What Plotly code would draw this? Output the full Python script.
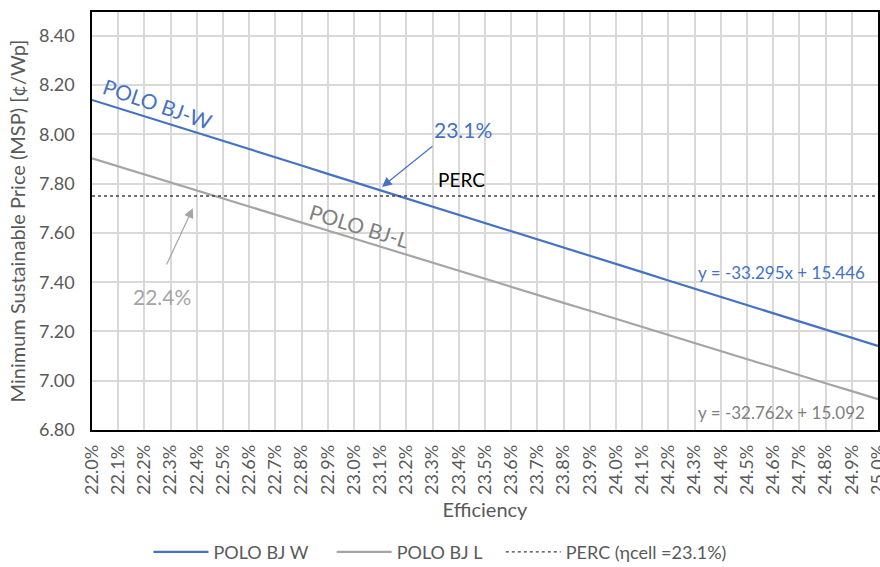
import plotly.graph_objects as go

efficiency = [22.0, 22.1, 22.2, 22.3, 22.4, 22.5, 22.6, 22.7, 22.8, 22.9,
              23.0, 23.1, 23.2, 23.3, 23.4, 23.5, 23.6, 23.7, 23.8, 23.9,
              24.0, 24.1, 24.2, 24.3, 24.4, 24.5, 24.6, 24.7, 24.8, 24.9, 25.0]
tick_labels = ["22.0%", "22.1%", "22.2%", "22.3%", "22.4%", "22.5%", "22.6%", "22.7%", "22.8%", "22.9%",
               "23.0%", "23.1%", "23.2%", "23.3%", "23.4%", "23.5%", "23.6%", "23.7%", "23.8%", "23.9%",
               "24.0%", "24.1%", "24.2%", "24.3%", "24.4%", "24.5%", "24.6%", "24.7%", "24.8%", "24.9%", "25.0%"]
polo_bj_w = [8.140, 8.107, 8.073, 8.040, 8.007, 7.973, 7.940, 7.907, 7.874, 7.840,
             7.807, 7.774, 7.740, 7.707, 7.674, 7.640, 7.607, 7.574, 7.541, 7.507,
             7.474, 7.441, 7.407, 7.374, 7.341, 7.307, 7.274, 7.241, 7.208, 7.174, 7.141]
polo_bj_l = [7.903, 7.870, 7.838, 7.805, 7.773, 7.740, 7.708, 7.675, 7.642, 7.610,
             7.577, 7.545, 7.512, 7.479, 7.447, 7.414, 7.382, 7.349, 7.316, 7.284,
             7.251, 7.219, 7.186, 7.153, 7.121, 7.088, 7.056, 7.023, 6.990, 6.958, 6.925]
perc_x = [22.0, 25.0]
perc_y = [7.75, 7.75]
y_ticks = [6.80, 7.00, 7.20, 7.40, 7.60, 7.80, 8.00, 8.20, 8.40]

BLUE = "#4472C4"
GRAY = "#A5A5A5"
TXT = "#595959"
FONT = "Lato"
NB = "\u00a0"

fig = go.Figure()
fig.add_trace(go.Scatter(x=efficiency, y=polo_bj_w, mode="lines", name="POLO BJ W" + NB * 4,
                         line=dict(color=BLUE, width=2.2)))
fig.add_trace(go.Scatter(x=efficiency, y=polo_bj_l, mode="lines", name="POLO BJ L" + NB * 3,
                         line=dict(color=GRAY, width=2.2)))
fig.add_trace(go.Scatter(x=perc_x, y=perc_y, mode="lines", name="PERC (ηcell =23.1%)",
                         line=dict(color="#404040", width=1.3, dash="dot")))

ann = []
ann.append(dict(x=22.25, y=8.125, text="POLO BJ-W", showarrow=False, textangle=19,
                font=dict(color=BLUE, size=21, family=FONT)))
ann.append(dict(x=23.02, y=7.63, text="POLO BJ-L", showarrow=False, textangle=17,
                font=dict(color="#808080", size=21, family=FONT)))
ann.append(dict(x=23.416, y=8.018, text="23.1%", showarrow=False,
                font=dict(color=BLUE, size=21, family=FONT)))
ann.append(dict(x=23.412, y=7.815, text="PERC", showarrow=False,
                font=dict(color="#000000", size=19, family=FONT)))
ann.append(dict(x=22.267, y=7.344, text="22.4%", showarrow=False,
                font=dict(color=GRAY, size=21, family=FONT)))
ann.append(dict(x=24.96, y=7.438, text="y = -33.295x + 15.446", showarrow=False, xanchor="right",
                font=dict(color=BLUE, size=17, family=FONT)))
ann.append(dict(x=24.96, y=6.873, text="y = -32.762x + 15.092", showarrow=False, xanchor="right",
                font=dict(color="#7F7F7F", size=17, family=FONT)))
ann.append(dict(x=23.107, y=7.787, ax=23.305, ay=7.957, xref="x", yref="y", axref="x", ayref="y",
                text="", showarrow=True, arrowhead=2, arrowsize=1.6, arrowwidth=1.2, arrowcolor=BLUE))
ann.append(dict(x=22.385, y=7.70, ax=22.282, ay=7.466, xref="x", yref="y", axref="x", ayref="y",
                text="", showarrow=True, arrowhead=2, arrowsize=1.6, arrowwidth=1.2, arrowcolor=GRAY))

fig.update_layout(
    width=880, height=567,
    margin=dict(l=92, r=2, t=12, b=137),
    paper_bgcolor="white", plot_bgcolor="white",
    font=dict(family=FONT, color=TXT, size=17),
    annotations=ann,
    showlegend=True,
    legend=dict(orientation="h", x=0.5, xanchor="center", xref="container",
                y=0.026, yanchor="middle", yref="container",
                itemwidth=55,
                font=dict(size=18, color=TXT, family=FONT)),
    xaxis=dict(range=[21.9999, 25.0001], tickvals=efficiency, ticktext=tick_labels, tickangle=-90,
               showgrid=True, gridcolor="#D9D9D9", gridwidth=1.5,
               showline=True, linecolor="black", linewidth=1.5, mirror=True,
               ticks="", zeroline=False, automargin=False, ticklabelstandoff=6,
               ticklabeloverflow="allow",
               title=dict(text="Efficiency", font=dict(size=20, color=TXT, family=FONT), standoff=9),
               tickfont=dict(size=18, color=TXT, family=FONT)),
    yaxis=dict(range=[6.8, 8.497], tickvals=y_ticks, tickformat=".2f",
               showgrid=True, gridcolor="#D9D9D9", gridwidth=1.5,
               showline=True, linecolor="black", linewidth=1.5, mirror=True,
               ticks="", zeroline=False, automargin=False, ticklabelstandoff=12,
               title=dict(text="Minimum Sustainable Price (MSP) [¢/Wp]", font=dict(size=20, color=TXT, family=FONT), standoff=8),
               tickfont=dict(size=18, color=TXT, family=FONT)),
)
fig.write_html("out.html", config={"displayModeBar": False},
               post_script="document.body.style.margin='0';document.body.style.overflow='hidden';")
